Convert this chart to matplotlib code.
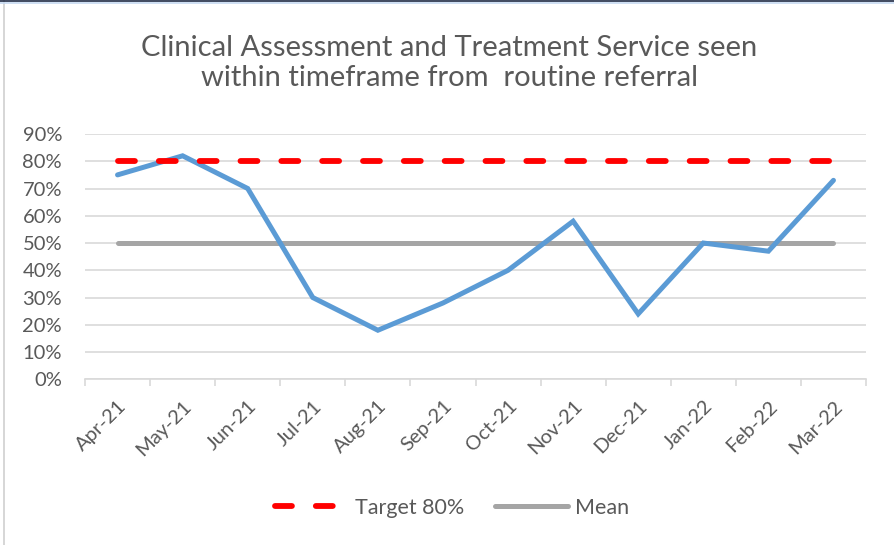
import matplotlib
matplotlib.use("Agg")
import matplotlib.pyplot as plt
from matplotlib.lines import Line2D
from matplotlib.ticker import FixedLocator, PercentFormatter

months = ["Apr-21", "May-21", "Jun-21", "Jul-21", "Aug-21", "Sep-21",
          "Oct-21", "Nov-21", "Dec-21", "Jan-22", "Feb-22", "Mar-22"]
actual = [0.75, 0.82, 0.70, 0.30, 0.18, 0.28, 0.40, 0.58, 0.24, 0.50, 0.47, 0.73]
target = [0.80] * 12
mean = [0.50] * 12
yticks = [0.0, 0.1, 0.2, 0.3, 0.4, 0.5, 0.6, 0.7, 0.8, 0.9]

plt.rcParams['font.family'] = ['Lato', 'DejaVu Sans']
txt = '#595959'
grid = '#D9D9D9'

fig = plt.figure(figsize=(8.94, 5.45), dpi=100)
ax = fig.add_axes([85/894, 1-379.3/545, (866-85)/894, (379.3-134)/545])

x = list(range(len(months)))
ax.plot(x, actual, color='#5B9BD5', lw=3.6, solid_joinstyle='miter', solid_capstyle='round', zorder=3)
ax.plot(x, target, color='#FF0000', lw=4.2, linestyle=(0, (2.9, 4.1)), dash_capstyle='round', zorder=4,
        label='Target 80%')
ax.plot(x, mean, color='#A5A5A5', lw=3.6, solid_capstyle='round', zorder=2, label='Mean')

ax.set_xlim(-0.5, len(months) - 0.5)
ax.set_ylim(0, 0.9)
ax.yaxis.set_major_locator(FixedLocator(yticks))
ax.yaxis.set_major_formatter(PercentFormatter(1.0, decimals=0))
ax.set_xticks(x)
ax.set_xticklabels(months, rotation=45, ha='right', rotation_mode='anchor')
ax.set_xticks([i - 0.5 for i in range(len(months) + 1)], minor=True)
ax.tick_params(axis='x', which='major', length=0, pad=13, labelsize=14.5, labelcolor=txt)
ax.tick_params(axis='x', which='minor', length=5, color=grid, width=1.2)
ax.tick_params(axis='y', length=0, pad=16.5, labelsize=14.5, labelcolor=txt)

ax.grid(axis='y', color=grid, lw=1.2)
ax.set_axisbelow(True)
for s in ['left', 'right', 'top']:
    ax.spines[s].set_visible(False)
ax.spines['bottom'].set_color(grid)
ax.spines['bottom'].set_linewidth(1.2)

fig.text(449/894, 1-63/545, "Clinical Assessment and Treatment Service seen\nwithin timeframe from  routine referral",
         ha='center', va='center', fontsize=21, color=txt, linespacing=1.2)

leg = fig.legend(loc='center', bbox_to_anchor=(452/894, 1-508/545), ncol=2, frameon=False,
                 fontsize=15.5, handlelength=3.4, columnspacing=1.4, handletextpad=0.35)
for t in leg.get_texts():
    t.set_color(txt)

fig.add_artist(Line2D([3.5/894, 3.5/894], [0, 1], transform=fig.transFigure, color='#D0D0D0', lw=1.2))
fig.add_artist(Line2D([0, 1], [1-2.5/545, 1-2.5/545], transform=fig.transFigure, color='#C6D9F1', lw=1.2))
fig.add_artist(Line2D([0, 1], [1-0.7/545, 1-0.7/545], transform=fig.transFigure, color='#1F2A44', lw=1.2))

fig.savefig('out.png', dpi=100)
